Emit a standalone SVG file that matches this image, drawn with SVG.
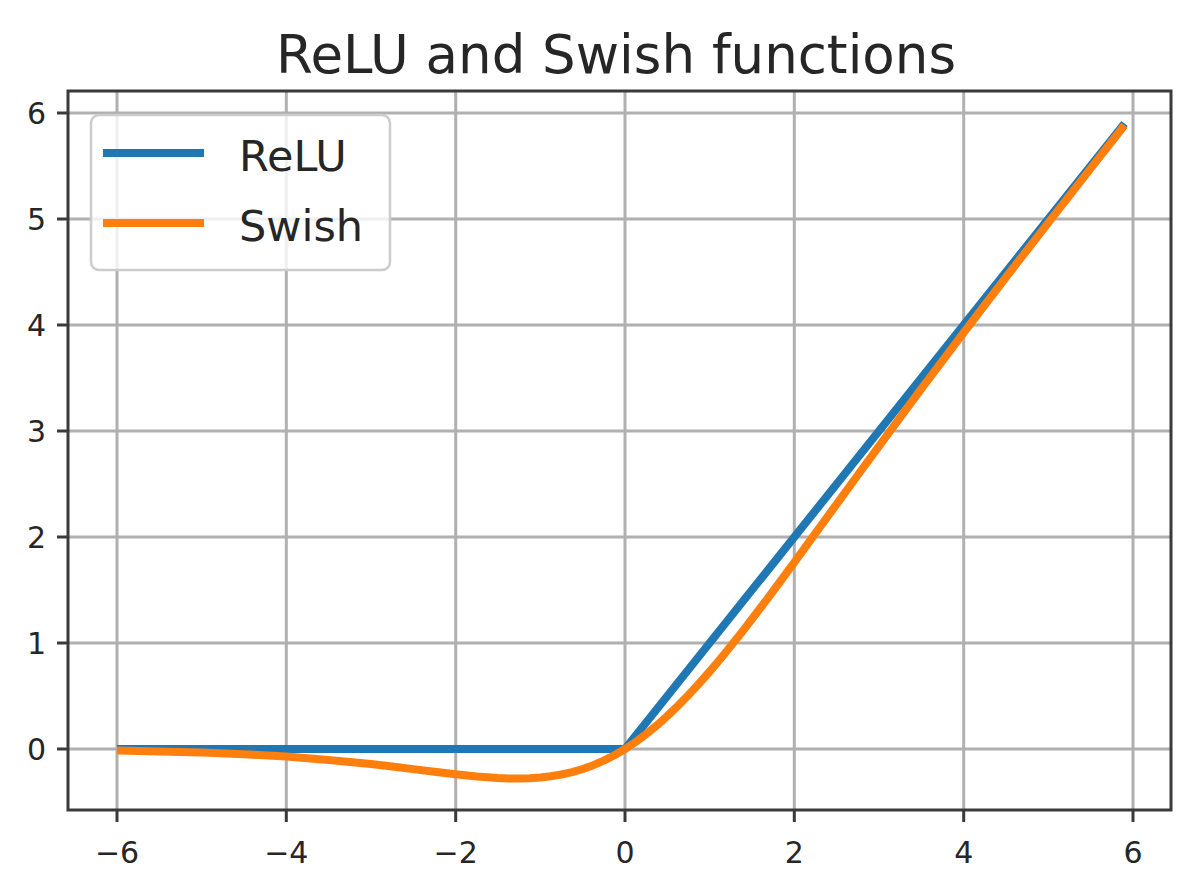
<svg xmlns="http://www.w3.org/2000/svg" width="1200" height="895" viewBox="0 0 1200 895">
<style>
text{font-family:"DejaVu Sans","Liberation Sans",sans-serif;fill:#262626}
.grid{stroke:#b0b0b0;stroke-width:3;fill:none}
.spine{stroke:#3a3a3a;stroke-width:3;fill:none}
.tick{stroke:#3a3a3a;stroke-width:3}
.yl{font-size:30px;text-anchor:end}
.xl{font-size:30px;text-anchor:middle}
.relu{stroke:#1f77b4;stroke-width:8;fill:none;stroke-linejoin:round;stroke-linecap:butt}
.swish{stroke:#ff7f0e;stroke-width:8;fill:none;stroke-linejoin:round;stroke-linecap:butt}
</style>
<rect width="1200" height="895" fill="#fff"/>
<text x="616" y="73" font-size="53" text-anchor="middle">ReLU and Swish functions</text>
<g id="grid">
<path class="grid" d="M117 91V810M286.3 91V810M455.7 91V810M625 91V810M794.3 91V810M963.7 91V810M1133 91V810"/>
<path class="grid" d="M68 749H1171M68 643H1171M68 537H1171M68 431H1171M68 325H1171M68 219H1171M68 113H1171"/>
</g>
<g id="curves">
<polyline id="relu" class="relu" points="117,749 625,749 1124.5,123.6"/>
<polyline id="swish" class="swish" points="117,750.6 159.3,751.4 201.7,752.6 244,754.2 286.3,756.6 328.7,759.9 371,764.1 392.2,766.5 413.3,769.1 434.5,771.7 455.7,774.3 476.8,776.5 498,778 508.6,778.4 519.2,778.5 529.8,778.2 540.3,777.5 550.9,776.3 561.5,774.5 572.1,772.1 582.7,769 593.3,765.2 603.8,760.6 614.4,755.2 625,749 635.6,742 646.2,734.1 656.8,725.4 667.3,716 677.9,705.9 688.5,695 699.1,683.5 709.7,671.5 720.3,659 730.8,646 741.4,632.7 752,619 773.2,591 794.3,562.3 815.5,533.2 836.7,504.1 857.8,475 879,446.1 921.3,388.9 963.7,332.6 1006,277.2 1048.4,222.6 1090.7,168.4 1124.5,125.3"/>
</g>
<g id="axes">
<rect class="spine" x="68" y="91" width="1103" height="719"/>
<path class="tick" d="M57 749H68M57 643H68M57 537H68M57 431H68M57 325H68M57 219H68M57 113H68"/>
<path class="tick" d="M117 810V822M286.3 810V822M455.7 810V822M625 810V822M794.3 810V822M963.7 810V822M1133 810V822"/>
<text class="yl" x="46" y="760">0</text>
<text class="yl" x="46" y="654">1</text>
<text class="yl" x="46" y="548">2</text>
<text class="yl" x="46" y="442">3</text>
<text class="yl" x="46" y="336">4</text>
<text class="yl" x="46" y="230">5</text>
<text class="yl" x="46" y="124">6</text>
<text class="xl" x="117" y="863">−6</text>
<text class="xl" x="286.3" y="863">−4</text>
<text class="xl" x="455.7" y="863">−2</text>
<text class="xl" x="625" y="863">0</text>
<text class="xl" x="794.3" y="863">2</text>
<text class="xl" x="963.7" y="863">4</text>
<text class="xl" x="1133" y="863">6</text>
</g>
<g id="legend">
<rect x="91" y="115" width="299" height="155" rx="8" fill="#fff" fill-opacity="0.8" stroke="#cccccc" stroke-width="2.5"/>
<line x1="103" y1="153" x2="204" y2="153" class="relu"/>
<line x1="103" y1="223" x2="204" y2="223" class="swish"/>
<text x="239" y="171" font-size="43">ReLU</text>
<text x="239" y="241" font-size="43">Swish</text>
</g>
</svg>
